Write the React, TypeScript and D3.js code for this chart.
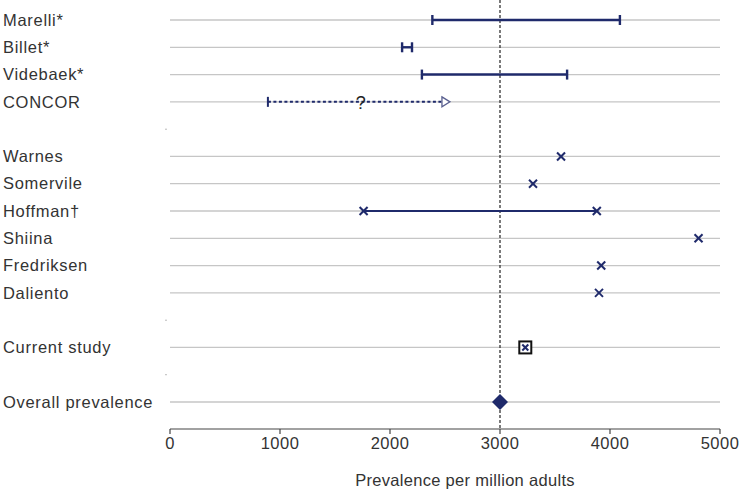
import React from "react";
import * as d3 from "d3";

const rows = ["Marelli*", "Billet*", "Videbaek*", "CONCOR", "", "Warnes", "Somervile", "Hoffman\u2020", "Shiina", "Fredriksen", "Daliento", " ", "Current study", "  ", "Overall prevalence"];
const rangeStudies = ["Marelli*", "Billet*", "Videbaek*"];
const rangeLow = [2385, 2110, 2290];
const rangeHigh = [4090, 2200, 3610];
const concorLow = 890;
const concorHigh = 2545;
const concorGuess = 1735;
const pointStudies = ["Warnes", "Somervile", "Hoffman\u2020", "Shiina", "Fredriksen", "Daliento"];
const pointValues = [3555, 3300, 3880, 4805, 3920, 3900];
const hoffmanLow = 1760;
const currentStudy = 3230;
const overall = 3000;
const xTicks = [0, 1000, 2000, 3000, 4000, 5000];

const NAVY = "#1f2a6b";

export default function App() {
  const W = 742, H = 490;
  const x = d3.scaleLinear().domain([0, 5000]).range([170, 720]);
  const y = d3.scalePoint<string>().domain(rows).range([20, 402]);
  const axisY = 429;
  const cross = (cx: number, cy: number, s = 4) => (
    <g stroke={NAVY} strokeWidth={2}>
      <line x1={cx - s} y1={cy - s} x2={cx + s} y2={cy + s} />
      <line x1={cx - s} y1={cy + s} x2={cx + s} y2={cy - s} />
    </g>
  );
  const ry = (k: string) => y(k) as number;
  const cy = ry("CONCOR");
  const fs = 16.5;
  return (
    <svg width={W} height={H} style={{ position: "absolute", left: 0, top: 0, fontFamily: "Liberation Sans, Arial, sans-serif" }}>
      <rect width={W} height={H} fill="#fff" />
      {rows.map((r) =>
        r.trim() === "" ? (
          <circle key={"b" + rows.indexOf(r)} cx={166} cy={ry(r)} r={0.6} fill="#888" />
        ) : (
          <g key={r}>
            <line x1={170} x2={720} y1={ry(r)} y2={ry(r)} stroke="#c6c6c6" strokeWidth={1.3} />
            <text x={3} y={ry(r)} dy="0.35em" fontSize={fs} letterSpacing={0.7} fill="#333">{r}</text>
          </g>
        )
      )}
      <line x1={x(3000)} x2={x(3000)} y1={0} y2={axisY} stroke="#333" strokeWidth={1.3} strokeDasharray="3,2" />
      {rangeStudies.map((s, i) => (
        <g key={s} stroke={NAVY} strokeWidth={2.4}>
          <line x1={x(rangeLow[i])} x2={x(rangeHigh[i])} y1={ry(s)} y2={ry(s)} />
          <line x1={x(rangeLow[i])} x2={x(rangeLow[i])} y1={ry(s) - 5} y2={ry(s) + 5} />
          <line x1={x(rangeHigh[i])} x2={x(rangeHigh[i])} y1={ry(s) - 5} y2={ry(s) + 5} />
        </g>
      ))}
      <g>
        <line x1={x(concorLow)} x2={x(concorHigh) - 8} y1={cy} y2={cy} stroke={NAVY} strokeWidth={2} strokeDasharray="3,2.5" />
        <line x1={x(concorLow)} x2={x(concorLow)} y1={cy - 5} y2={cy + 5} stroke={NAVY} strokeWidth={2} />
        <path d={`M${x(concorHigh) - 8},${cy - 5}L${x(concorHigh)},${cy}L${x(concorHigh) - 8},${cy + 5}Z`} fill="#fff" stroke="#5a6090" strokeWidth={1.3} />
        <text x={x(concorGuess)} y={cy} dy="0.38em" textAnchor="middle" fontSize={18} fill="#222">?</text>
      </g>
      <line x1={x(hoffmanLow)} x2={x(pointValues[2])} y1={ry("Hoffman\u2020")} y2={ry("Hoffman\u2020")} stroke={NAVY} strokeWidth={2.2} />
      {pointStudies.map((s, i) => <g key={s}>{cross(x(pointValues[i]), ry(s))}</g>)}
      {cross(x(hoffmanLow), ry("Hoffman\u2020"))}
      <g>
        <rect x={x(currentStudy) - 6} y={ry("Current study") - 6} width={12} height={12} fill="#fff" stroke="#111" strokeWidth={2} />
        {cross(x(currentStudy), ry("Current study"), 3)}
      </g>
      <path
        d={`M${x(overall)},${ry("Overall prevalence") - 8}L${x(overall) + 8},${ry("Overall prevalence")}L${x(overall)},${ry("Overall prevalence") + 8}L${x(overall) - 8},${ry("Overall prevalence")}Z`}
        fill={NAVY}
      />
      <line x1={170} x2={720} y1={axisY} y2={axisY} stroke="#444" strokeWidth={1.2} />
      {xTicks.map((t) => (
        <g key={t}>
          <line x1={x(t)} x2={x(t)} y1={axisY} y2={axisY + 5} stroke="#444" strokeWidth={1.2} />
          <text x={x(t)} y={axisY + 14} dy="0.35em" textAnchor="middle" fontSize={fs} letterSpacing={0.5} fill="#333">{t}</text>
        </g>
      ))}
      <text x={465} y={480} dy="0.35em" textAnchor="middle" fontSize={fs} letterSpacing={0.3} fill="#333">Prevalence per million adults</text>
    </svg>
  );
}
